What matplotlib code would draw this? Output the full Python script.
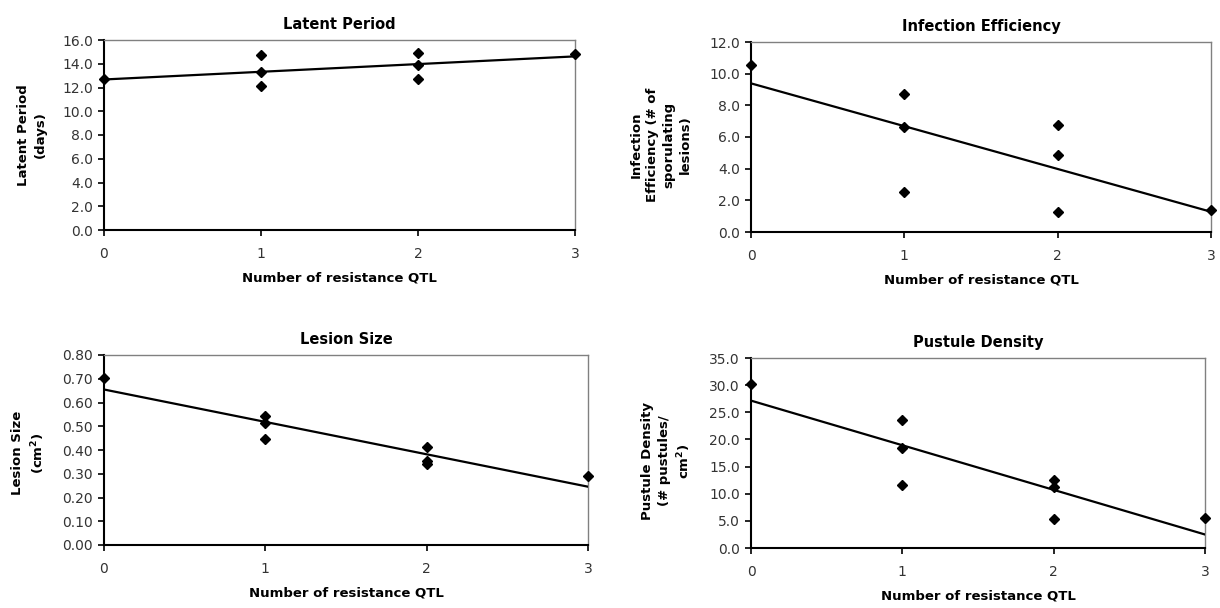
import numpy as np
import matplotlib
matplotlib.use("Agg")
import matplotlib.pyplot as plt
from matplotlib.ticker import FormatStrFormatter

plt.rcParams['font.family'] = ['DejaVu Sans']

# ---- data ----
qtl_x = [0, 1, 1, 1, 2, 2, 2, 3]

latent_period = [12.68, 14.73, 13.32, 12.11, 14.93, 13.89, 12.70, 14.82]
infection_eff = [10.54, 8.69, 6.64, 2.52, 6.74, 4.88, 1.27, 1.38]
lesion_size = [0.702, 0.544, 0.513, 0.447, 0.412, 0.352, 0.342, 0.289]
pustule_density = [30.25, 23.6, 18.4, 11.6, 12.5, 11.3, 5.4, 5.5]

titles = ["Latent Period", "Infection Efficiency", "Lesion Size", "Pustule Density"]
ylabels = ["Latent Period\n(days)",
           "Infection\nEfficiency (# of\nsporulating\nlesions)",
           "Lesion Size\n(cm$^{\\mathbf{2}}$)",
           "Pustule Density\n(# pustules/\ncm$^{\\mathbf{2}}$)"]
xlabel = "Number of resistance QTL"
ylims = [16.0, 12.0, 0.80, 35.0]
ysteps = [2.0, 2.0, 0.10, 5.0]
yfmts = ["%.1f", "%.1f", "%.2f", "%.1f"]
xticks = [0, 1, 2, 3]

W, H = 1220, 608
fig = plt.figure(figsize=(W / 100, H / 100), dpi=100)

# axes boxes in pixels: left, right, top, bottom
boxes = [(104, 575, 40, 230), (751, 1211, 42, 232),
         (104, 588, 355, 545), (751, 1205, 358, 548)]
# y-label centres in pixels
ylab_pos = [(32, 135), (661, 145), (29, 453), (667, 461)]

series = [latent_period, infection_eff, lesion_size, pustule_density]

for i in range(4):
    l, r, t, b = boxes[i]
    ax = fig.add_axes([l / W, 1 - b / H, (r - l) / W, (b - t) / H])
    y = series[i]
    ax.plot(qtl_x, y, linestyle='none', marker='D', markersize=5.5,
            color='black', clip_on=False, zorder=5)
    coef = np.polyfit(qtl_x, y, 1)
    xs = np.array([0, 3])
    ax.plot(xs, np.polyval(coef, xs), color='black', lw=1.6, zorder=4)

    ax.set_xlim(0, 3)
    ax.set_ylim(0, ylims[i])
    ax.set_xticks(xticks)
    ax.set_yticks(np.arange(0, ylims[i] + ysteps[i] / 2, ysteps[i]))
    ax.yaxis.set_major_formatter(FormatStrFormatter(yfmts[i]))

    for side in ['left', 'bottom']:
        ax.spines[side].set_color('black')
        ax.spines[side].set_linewidth(1.5)
    for side in ['top', 'right']:
        ax.spines[side].set_color('#808080')
        ax.spines[side].set_linewidth(1.0)

    ax.tick_params(axis='y', direction='out', length=4, width=1.2,
                   pad=4, labelsize=10, labelcolor='#333333')
    ax.tick_params(axis='x', direction='out', length=4, width=1.2,
                   pad=8, labelsize=10, labelcolor='#333333')

    ax.set_title(titles[i], fontsize=10.5, fontweight='bold', pad=8)
    ax.set_xlabel(xlabel, fontsize=9.5, fontweight='bold', labelpad=8)

    px, py = ylab_pos[i]
    fig.text(px / W, 1 - py / H, ylabels[i], rotation=90, ha='center',
             va='center', multialignment='center', fontsize=9.5,
             fontweight='bold', linespacing=1.35)

fig.savefig("out.png", dpi=100)
